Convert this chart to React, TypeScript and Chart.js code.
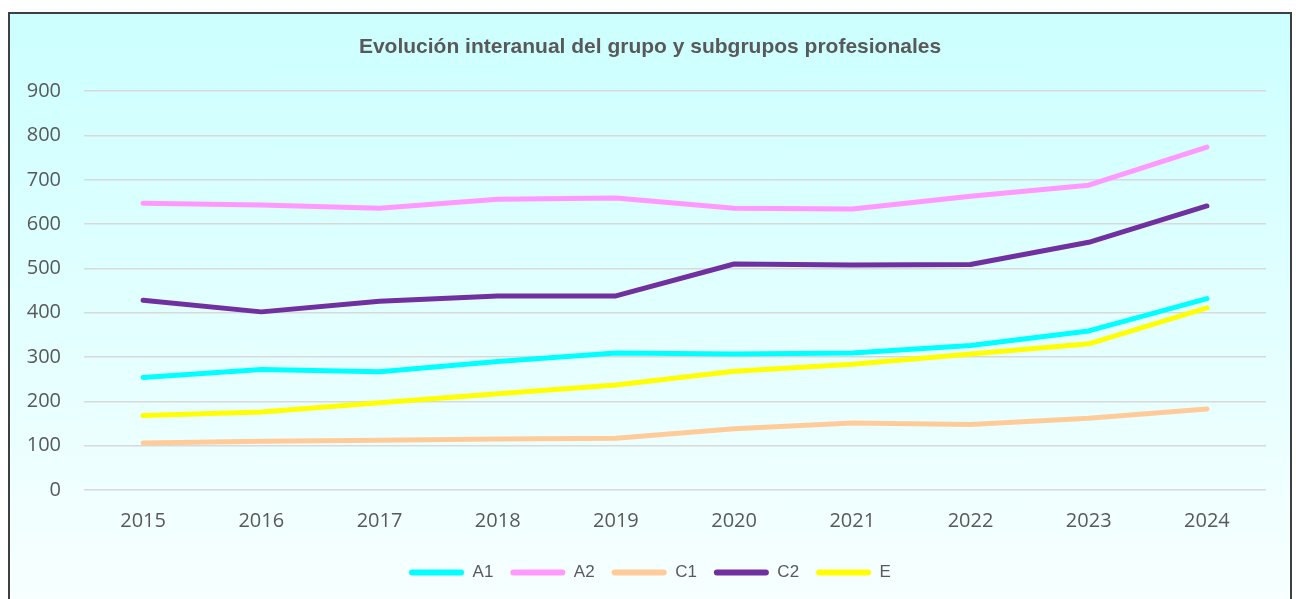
import React, { useEffect, useRef } from "react";
import { Chart, registerables } from "chart.js";

Chart.register(...registerables);

const years = ["2015", "2016", "2017", "2018", "2019", "2020", "2021", "2022", "2023", "2024"];
const seriesA1 = [254, 272, 267, 290, 309, 307, 309, 326, 359, 432];
const seriesA2 = [647, 643, 636, 656, 659, 636, 634, 663, 688, 774];
const seriesC1 = [106, 110, 112, 115, 117, 138, 151, 148, 162, 183];
const seriesC2 = [428, 402, 426, 438, 438, 510, 508, 509, 559, 641];
const seriesE = [168, 176, 197, 217, 237, 268, 284, 307, 330, 411];
const seriesNames = ["A1", "A2", "C1", "C2", "E"];
const seriesColors = ["#00FFFF", "#FF99FF", "#FFCC99", "#7030A0", "#FFFF00"];
const titleText = "Evolución interanual del grupo y subgrupos profesionales";

export default function App() {
  const canvasRef = useRef<HTMLCanvasElement | null>(null);

  useEffect(() => {
    const values = [seriesA1, seriesA2, seriesC1, seriesC2, seriesE];
    const chart = new Chart(canvasRef.current as HTMLCanvasElement, {
      type: "line",
      data: {
        labels: years,
        datasets: values.map((v, i) => ({
          label: seriesNames[i],
          data: v,
          borderColor: seriesColors[i],
          backgroundColor: seriesColors[i],
          borderWidth: 5,
          pointRadius: 0,
          tension: 0,
          borderCapStyle: "round" as const,
          borderJoinStyle: "round" as const,
        })),
      },
      options: {
        animation: false,
        responsive: true,
        maintainAspectRatio: false,
        layout: { padding: { left: 0, right: 0, top: 0, bottom: 19 } },
        plugins: {
          title: {
            display: true,
            text: titleText,
            color: "#595959",
            font: { family: "'Liberation Sans', Arial, sans-serif", size: 21, weight: "bold" },
            padding: { top: 21, bottom: 31 },
          },
          legend: {
            position: "bottom",
            labels: {
              color: "#595959",
              font: { family: "'Liberation Sans', Arial, sans-serif", size: 17 },
              boxWidth: 55,
              boxHeight: 6,
              padding: 17,
              useBorderRadius: true,
              borderRadius: 3,
              generateLabels: (c: any) =>
                c.data.datasets.map((d: any, i: number) => ({
                  text: d.label,
                  fillStyle: d.borderColor,
                  strokeStyle: d.borderColor,
                  lineWidth: 0,
                  fontColor: "#595959",
                  datasetIndex: i,
                  borderRadius: 3,
                })),
            },
          },
          tooltip: { enabled: false },
        },
        scales: {
          x: {
            offset: true,
            grid: { display: false, drawTicks: false },
            border: { display: false },
            ticks: {
              color: "#595959",
              font: { family: "'Open Sans', sans-serif", size: 20 },
              padding: 19,
            },
            afterFit: (s: any) => {
              s.height = 57;
            },
          },
          y: {
            min: 0,
            max: 900,
            grid: { color: "#D9D9D9", lineWidth: 1.5, drawTicks: false },
            border: { display: false },
            ticks: {
              stepSize: 100,
              color: "#595959",
              font: { family: "'Open Sans', sans-serif", size: 20 },
              padding: 23,
            },
            afterFit: (s: any) => {
              s.width = 74;
            },
          },
          yRightSpace: {
            type: "linear",
            position: "right",
            min: 0,
            max: 900,
            grid: { display: false, drawTicks: false },
            border: { display: false },
            ticks: { display: false },
            afterFit: (s: any) => {
              s.width = 24;
            },
          },
        },
      },
    });
    return () => chart.destroy();
  }, []);

  return (
    <div
      style={{
        position: "fixed",
        left: 8,
        top: 12,
        width: 1284,
        height: 600,
        boxSizing: "border-box",
        border: "2px solid #3F3F3F",
        background: "linear-gradient(to bottom, #CCFFFF 0%, #F8FFFF 100%)",
      }}
    >
      <div style={{ position: "relative", width: 1280, height: 596 }}>
        <canvas ref={canvasRef} />
      </div>
    </div>
  );
}
